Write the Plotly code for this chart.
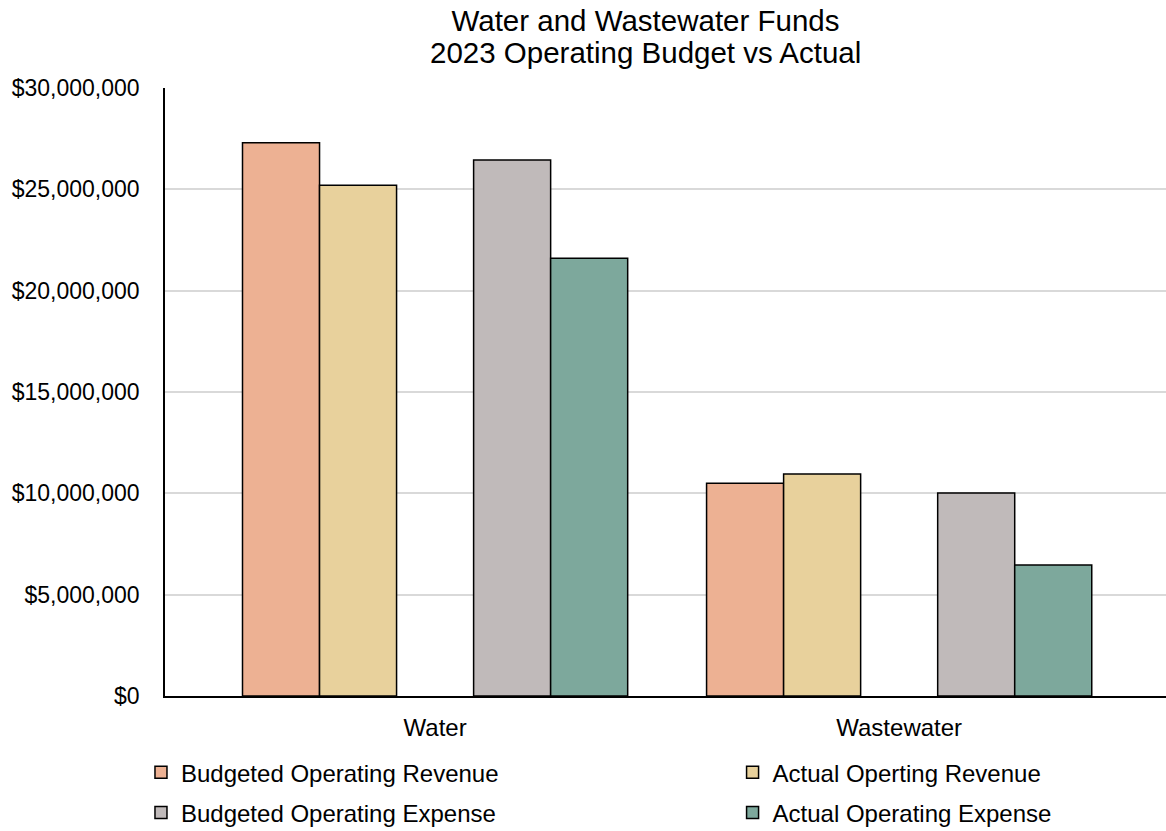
import plotly.graph_objects as go

categories = ["Water", "Wastewater"]
series_names = ["Budgeted Operating Revenue", "Actual Operting Revenue",
                "Budgeted Operating Expense", "Actual Operating Expense"]
budgeted_revenue = [27300000, 10500000]
actual_revenue = [25200000, 10950000]
budgeted_expense = [26450000, 10020000]
actual_expense = [21600000, 6460000]
y_ticks = [0, 5000000, 10000000, 15000000, 20000000, 25000000, 30000000]
title_lines = ["Water and Wastewater Funds", "2023 Operating Budget vs Actual"]

colors = ["#EDB193", "#E8D19C", "#C0BABA", "#7DA89C"]
values = [budgeted_revenue, actual_revenue, budgeted_expense, actual_expense]
legend_ids = ["legend", "legend2", "legend", "legend2"]

W = 0.166
offsets = [-2.5 * W, -1.5 * W, 0.5 * W, 1.5 * W]

FONT = "Liberation Sans, Arial, sans-serif"
FS = 24
TFS = 29.5

fig = go.Figure()
for i, (name, vals, col, off, lg) in enumerate(zip(series_names, values, colors, offsets, legend_ids)):
    fig.add_trace(go.Bar(
        x=categories, y=vals, name=name,
        marker=dict(color=col, line=dict(color="#000000", width=1.5)),
        width=W, offset=off, legend=lg, legendgroup=f"g{i}",
    ))

legend_common = dict(
    orientation="v", yanchor="top", y=-0.089,
    font=dict(family=FONT, size=FS, color="#000000"),
    tracegroupgap=6, bgcolor="rgba(0,0,0,0)", borderwidth=0,
)

fig.update_layout(
    width=1166, height=831,
    margin=dict(l=165, r=0, t=88, b=135, autoexpand=False),
    paper_bgcolor="white", plot_bgcolor="white",
    font=dict(family=FONT, size=FS, color="#000000"),
    title=dict(
        text=title_lines[0],
        x=645.5 / 1166, xref="container", xanchor="center",
        y=1 - 21 / 831, yref="container", yanchor="middle",
        font=dict(family=FONT, size=TFS, color="#000000"),
    ),
    annotations=[dict(
        text=title_lines[1], x=(645.5 - 165) / 1001, xref="paper", xanchor="center",
        y=1 + (88 - 53) / 608, yref="paper", yanchor="middle", showarrow=False,
        font=dict(family=FONT, size=TFS, color="#000000"),
    )],
    barmode="group",
    showlegend=True,
    legend=dict(x=-0.024, xanchor="left", **legend_common),
    legend2=dict(x=0.567, xanchor="left", **legend_common),
)

fig.update_xaxes(
    type="category", range=[-0.582, 1.575],
    showline=True, linecolor="#000000", linewidth=1.5,
    showgrid=False, ticks="", ticklabelstandoff=9,
    tickfont=dict(family=FONT, size=FS, color="#000000"),
)
fig.update_yaxes(
    range=[0, 30000000], tickvals=y_ticks, tickformat="$,.0f",
    showline=True, linecolor="#000000", linewidth=1.5,
    showgrid=True, gridcolor="#D9D9D9", gridwidth=1.5,
    zeroline=False, ticks="", ticklabelstandoff=19,
    tickfont=dict(family=FONT, size=23, color="#000000"),
)

fig.write_html("out.html")
